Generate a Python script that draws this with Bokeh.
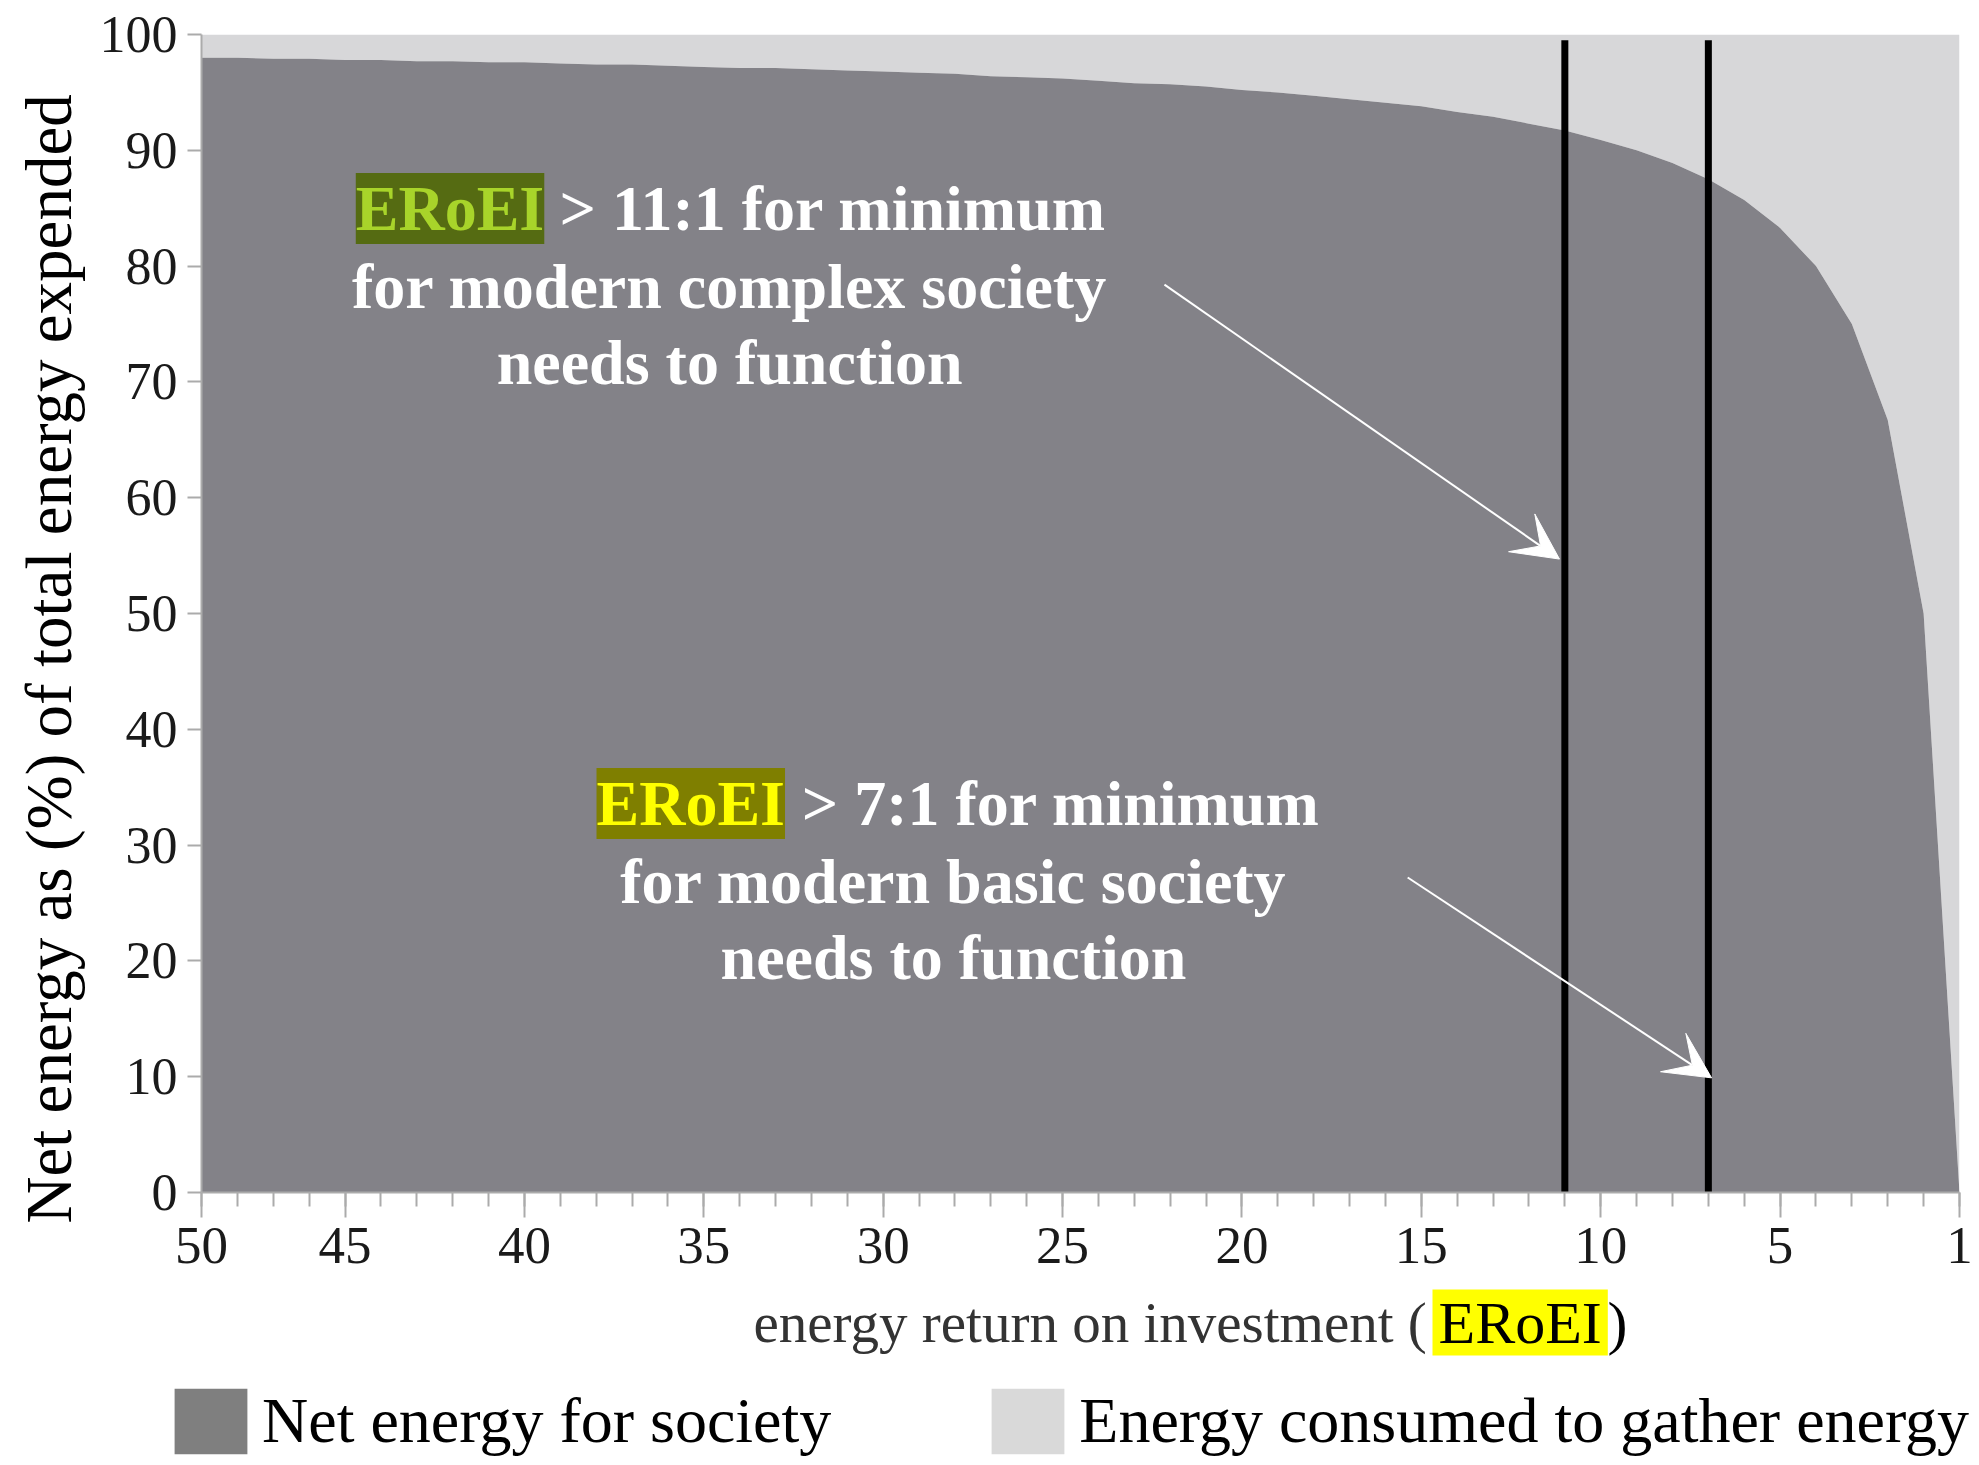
import math
from bokeh.plotting import figure
from bokeh.layouts import column, row
from bokeh.models import (ColumnDataSource, FixedTicker, Label, Arrow, VeeHead,
                          Legend, LegendItem, Range1d, Title)
from bokeh.embed import file_html
from bokeh.resources import INLINE

# ---------------- data ----------------
# position along the (reversed) EROEI axis, left end = 49, right end = 0
eroei_pos = [49, 48, 47, 46, 45, 44, 43, 42, 41, 40,
             39, 38, 37, 36, 35, 34, 33, 32, 31, 30,
             29, 28, 27, 26, 25, 24, 23, 22, 21, 20,
             19, 18, 17, 16, 15, 14, 13, 12, 11, 10,
             9, 8, 7, 6, 5, 4, 3, 2, 1, 0]
net_energy = [98.0, 98.0, 97.9, 97.9, 97.8, 97.8, 97.7, 97.7, 97.6, 97.6,
              97.5, 97.4, 97.4, 97.3, 97.2, 97.1, 97.1, 97.0, 96.9, 96.8,
              96.7, 96.6, 96.4, 96.3, 96.2, 96.0, 95.8, 95.7, 95.5, 95.2,
              95.0, 94.7, 94.4, 94.1, 93.8, 93.3, 92.9, 92.3, 91.7, 90.9,
              90.0, 88.9, 87.5, 85.7, 83.3, 80.0, 75.0, 66.7, 50.0, 0.0]
total_pct = [100.0] * len(eroei_pos)

x_tick_pos = [49, 45, 40, 35, 30, 25, 20, 15, 10, 5, 0]
x_tick_labels = ["50", "45", "40", "35", "30", "25", "20", "15", "10", "5", "1"]
x_minor_pos = list(range(0, 50))
y_tick_pos = [0, 10, 20, 30, 40, 50, 60, 70, 80, 90, 100]
thresholds = [11, 7]
threshold_top = [99.5, 99.5]

legend_labels = ["Net energy for society", "Energy consumed to gather energy"]

# ---------------- style ----------------
FONT = "Liberation Serif"
NET_COLOR = "#838288"
COST_COLOR = "#D7D7D9"
AXIS_GREY = "#ababab"

TOTAL_W, TOTAL_H = 1975, 1462
MAIN_H = 1286
BOTTOM_H = TOTAL_H - MAIN_H

# ---------------- main plot ----------------
p = figure(width=TOTAL_W, height=MAIN_H, output_backend="svg",
           toolbar_location=None, x_range=Range1d(49, 0), y_range=Range1d(0, 100),
           min_border_left=201, min_border_right=TOTAL_W - 1959,
           min_border_top=34, min_border_bottom=MAIN_H - 1192)
p.outline_line_color = None
p.grid.visible = False

src = ColumnDataSource(dict(x=eroei_pos, net=net_energy, total=total_pct))
p.varea(x="x", y1="net", y2="total", source=src, fill_color=COST_COLOR)
p.varea(x="x", y1=0, y2="net", source=src, fill_color=NET_COLOR)

p.segment(x0=thresholds, y0=[0, 0], x1=thresholds, y1=threshold_top,
          line_color="black", line_width=7)

xa = p.xaxis[0]
xa.ticker = FixedTicker(ticks=x_tick_pos, minor_ticks=x_minor_pos)
xa.major_label_overrides = dict(zip(x_tick_pos, x_tick_labels))
xa.major_tick_out = 25
xa.major_tick_in = 0
xa.minor_tick_out = 14
xa.minor_tick_in = 0
xa.major_tick_line_color = AXIS_GREY
xa.minor_tick_line_color = AXIS_GREY
xa.major_tick_line_width = 2
xa.minor_tick_line_width = 2
xa.axis_line_color = AXIS_GREY
xa.axis_line_width = 2
xa.major_label_text_font = FONT
xa.major_label_text_font_size = "53px"
xa.major_label_text_color = "#1a1a1a"
xa.major_label_standoff = 10

ya = p.yaxis[0]
ya.ticker = FixedTicker(ticks=y_tick_pos)
ya.major_tick_out = 14
ya.major_tick_in = 0
ya.minor_tick_line_color = None
ya.major_tick_line_color = AXIS_GREY
ya.major_tick_line_width = 2
ya.axis_line_color = AXIS_GREY
ya.axis_line_width = 2
ya.major_label_text_font = FONT
ya.major_label_text_font_size = "52px"
ya.major_label_text_color = "#1a1a1a"
ya.major_label_standoff = 10

# y axis title, shifted a little below the centre as in the original
p.add_layout(Title(text="Net energy as (%) of total energy expended", align="left",
                   offset=-31, vertical_align="top", standoff=20,
                   text_font=FONT, text_font_size="65px", text_font_style="normal",
                   text_color="black"), "left")


def label(fig, x, y, text, size, color, align="left", bold=False, bg=None,
          angle=0.0, padding=0):
    kw = {}
    if bg is not None:
        kw["background_fill_color"] = bg
    lab = Label(x=x, y=y, text=text, text_font=FONT, text_font_size=size,
                text_color=color, text_align=align, text_baseline="middle",
                text_font_style="bold" if bold else "normal", angle=angle,
                padding=padding, **kw)
    fig.add_layout(lab)


# annotation 1
label(p, 44.70, 84.97, "ERoEI", "64px", "#A8D42A", bold=True, bg="#556B12")
label(p, 39.02, 84.97, "> 11:1 for minimum", "64px", "white", bold=True)
label(p, 34.28, 78.24, "for modern complex society", "64px", "white", align="center", bold=True)
label(p, 34.28, 71.68, "needs to function", "64px", "white", align="center", bold=True)

# annotation 2
label(p, 37.99, 33.59, "ERoEI", "64px", "#FFFF00", bold=True, bg="#7F7F00")
label(p, 32.27, 33.59, "> 7:1 for minimum", "64px", "white", bold=True)
label(p, 28.04, 26.86, "for modern basic society", "64px", "white", align="center", bold=True)
label(p, 28.04, 20.29, "needs to function", "64px", "white", align="center", bold=True)

for xs, ys, xe, ye in [(22.16, 78.4, 11.15, 54.7), (15.38, 27.2, 6.91, 9.9)]:
    p.add_layout(Arrow(end=VeeHead(size=46, fill_color="white", line_color="white"),
                       x_start=xs, y_start=ys, x_end=xe, y_end=ye,
                       line_color="white", line_width=2))

# ---------------- bottom strip: x axis title + legend ----------------
bottom = figure(width=TOTAL_W, height=BOTTOM_H, output_backend="svg", toolbar_location=None,
                x_range=Range1d(0, TOTAL_W), y_range=Range1d(0, BOTTOM_H),
                x_axis_type=None, y_axis_type=None, min_border=0)
bottom.outline_line_color = None
bottom.grid.visible = False
ly = TOTAL_H - 1322
label(bottom, 753, ly, "energy return on investment (", "57px", "#333333")
label(bottom, 1432, ly, "ERoEI", "60px", "black", bg="#FFFF00", padding=(6, 0))
label(bottom, 1607, ly, ")", "60px", "black")

# invisible proxies of the two areas (same data) so the legend can show swatches
sw_net = bottom.varea(x="x", y1=0, y2="net", source=src, fill_color="#7F7F7F",
                      visible=False)
sw_cost = bottom.varea(x="x", y1="net", y2="total", source=src, fill_color="#D9D9D9",
                       visible=False)
legend = Legend(items=[LegendItem(label=legend_labels[0], renderers=[sw_net]),
                       LegendItem(label=legend_labels[1], renderers=[sw_cost])],
                orientation="horizontal", location=(165, 0),
                glyph_width=91, glyph_height=82, label_standoff=6, spacing=151,
                label_text_font=FONT, label_text_font_size="64px",
                label_text_color="black", padding=0, margin=0,
                border_line_color=None, background_fill_alpha=0)
bottom.add_layout(legend)

layout = column(row(p), bottom)
open("out.html", "w").write(file_html(layout, INLINE))
